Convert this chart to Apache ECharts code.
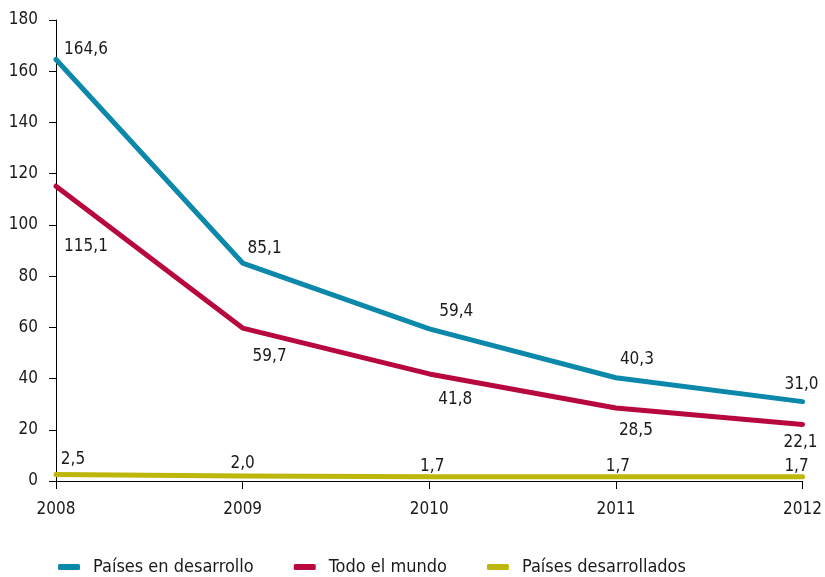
<!DOCTYPE html>
<html>
<head>
<meta charset="utf-8">
<script src="https://cdn.jsdelivr.net/npm/echarts@6/dist/echarts.min.js"></script>
<style>html,body{margin:0;padding:0;background:#fff}#c{width:825px;height:577px}</style>
</head>
<body>
<div id="c"></div>
<script>
const years = ['2008', '2009', '2010', '2011', '2012'];
const seriesNames = ['Países en desarrollo', 'Todo el mundo', 'Países desarrollados'];
const developing = [164.6, 85.1, 59.4, 40.3, 31.0];
const world = [115.1, 59.7, 41.8, 28.5, 22.1];
const developed = [2.5, 2.0, 1.7, 1.7, 1.7];

// label placement (styling only)
const offDeveloping = [[30, -10], [22, -14], [27, -17], [21, -18], [-1, -17]];
const offWorld = [[30, 60], [27, 28], [26, 26], [20, 23], [-2, 18]];
const offDeveloped = [[17, -15], [0, -12], [3, -10], [2, -10], [-6, -10]];
const colors = ['#0b88aa', '#b8093f', '#bdb70c'];
const FONT = '"DejaVu Sans Condensed", "Liberation Sans Narrow", sans-serif';

function fmt(v) { return v.toFixed(1).replace('.', ','); }
function build(values, offs) {
  return values.map((v, i) => ({ value: v, label: { offset: offs[i] } }));
}
function mkSeries(name, values, offs, color) {
  return {
    name: name,
    type: 'line',
    data: build(values, offs),
    symbol: 'circle',
    symbolSize: 2,
    itemStyle: { color: color },
    lineStyle: { color: color, width: 5, cap: 'round', join: 'round' },
    label: {
      show: true,
      position: 'inside',
      color: '#1a1a1a',
      fontFamily: FONT,
      fontSize: 17,
      formatter: p => fmt(p.value)
    },
    emphasis: { disabled: true },
    animation: false
  };
}

const chart = echarts.init(document.getElementById('c'));
chart.setOption({
  animation: false,
  grid: { left: 56, right: 18, top: 20, bottom: 96, containLabel: false },
  legend: {
    data: seriesNames.map((n, i) => ({ name: n, icon: 'roundRect' })),
    left: 53,
    top: 553,
    itemWidth: 22,
    itemHeight: 6,
    itemGap: 40,
    textStyle: { fontFamily: FONT, fontSize: 18, color: '#1a1a1a', padding: [0, 0, 0, 8] }
  },
  xAxis: {
    type: 'category',
    data: years,
    boundaryGap: false,
    axisLine: { lineStyle: { color: '#000', width: 1 } },
    axisTick: { show: true, length: 8, lineStyle: { color: '#000' } },
    axisLabel: { fontFamily: FONT, fontSize: 17, color: '#1a1a1a', margin: 20 },
    splitLine: { show: false }
  },
  yAxis: {
    type: 'value',
    min: 0,
    max: 180,
    interval: 20,
    axisLine: { show: true, lineStyle: { color: '#000', width: 1 } },
    axisTick: { show: true, length: 7, lineStyle: { color: '#000' } },
    axisLabel: { fontFamily: FONT, fontSize: 17, color: '#1a1a1a', margin: 18 },
    splitLine: { show: false }
  },
  series: [
    mkSeries(seriesNames[0], developing, offDeveloping, colors[0]),
    mkSeries(seriesNames[1], world, offWorld, colors[1]),
    mkSeries(seriesNames[2], developed, offDeveloped, colors[2])
  ]
});
</script>
</body>
</html>
